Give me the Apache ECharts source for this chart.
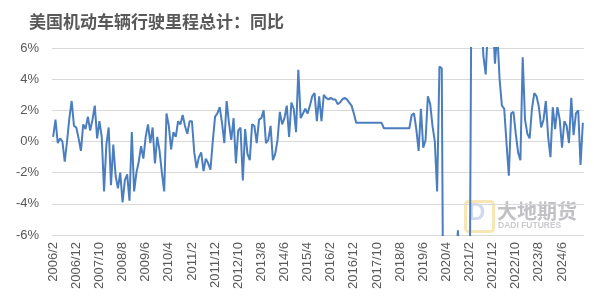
<!DOCTYPE html>
<html>
<head>
<meta charset="utf-8">
<script src="https://cdn.jsdelivr.net/npm/echarts@6/dist/echarts.min.js"></script>
<style>
html,body{margin:0;padding:0;background:#fff;}
#c{width:594px;height:304px;}
</style>
</head>
<body>
<div id="c"></div>
<script>
// Title
var titleText = '美国机动车辆行驶里程总计：同比';

// Monthly categories: 2006/2 .. 2025/3
var startYear = 2006, startMonth = 2, monthCount = 230;
var categories = [];
for (var k = 0; k < monthCount; k++) {
  var m = startMonth - 1 + k;
  categories.push((startYear + Math.floor(m / 12)) + '/' + (m % 12 + 1));
}

// Y tick labels (percent)
var yTicks = [-6, -4, -2, 0, 2, 4, 6];

// YoY values (%)
var yoy2006_2013 = [
  0.3, 1.4, -0.1, 0.2, 0.0, -1.3, 0.0, 1.5, 2.6, 1.0,
  0.9, 0.2, -0.6, 1.1, 0.8, 1.6, 0.7, 1.4, 2.3, 0.2,
  1.3, 0.3, -3.2, -0.2, 0.9, -2.8, -0.2, -2.2, -3.0, -2.0,
  -3.9, -2.5, -2.1, -3.8, 0.6, -3.2, -2.0, -1.3, -0.3, -1.1,
  0.3, 1.1, -0.1, 0.9, -1.4, 0.3, -0.6, -2.0, -3.2, 1.8,
  1.0, -0.5, 0.6, 0.3, 1.3, 1.1, 1.7, 1.0, 0.5, 1.3,
  1.3, -0.7, -1.7, -1.0, -0.7, -1.9, -1.1, -1.4, -1.8, 0.0,
  1.6, 1.8, 2.2, 1.2, -0.1, 2.6, 1.2, 0.1, 1.5, -1.4,
  0.7, 0.9, -2.5, 0.8, -0.8, -1.2, 1.1, 1.0, -0.1, 1.4
];
var yoy2013_2019 = [
  1.5, 2.0, -0.1, 0.1, 1.0, -1.2, -0.8, 0.1, 1.9, 1.1,
  1.5, 2.3, 0.3, 2.5, 2.1, 0.6, 4.6, 1.5, 1.8, 2.1,
  1.8, 2.3, 2.9, 3.1, 1.3, 2.9, 1.3, 3.0, 2.8, 2.7,
  2.8, 2.7, 2.7, 2.4, 2.5, 2.7, 2.8, 2.7, 2.5, 2.3,
  1.8, 1.2, 1.2, 1.2, 1.2, 1.2, 1.2, 1.2, 1.2, 1.2,
  1.2, 1.2, 1.2, 0.85, 0.85, 0.85, 0.85, 0.85, 0.85, 0.85,
  0.85, 0.85, 0.85, 0.85, 0.85
];
var yoy2019_2025 = [
  1.7, 1.8, 0.8, -0.6, 2.1, -0.4, 0.1, 2.9, 2.4, 1.0,
  0.0, -3.2, 4.8, 4.7, -20, -40, -25, -13, -10, -8,
  -5.7, -9, -10, -11, -12, -13, 15, 45, 25, 12,
  8.5, 5.5, 4.3, 7.5, 7.0, 8.0, 5.0, 7.0, 4.0, 2.3,
  2.1, -0.1, -2.2, 1.8, 1.9, 0.5, -0.7, -1.2, 5.4, 1.4,
  0.5, 0.2, 2.1, 3.1, 2.9, 2.2, 0.9, 1.4, 2.6, 0.3,
  -1.0, 2.2, 0.8, 2.2, 1.4, -0.4, 1.3, 1.0, -0.1, 2.8,
  0.4, 1.8, 2.0, -1.5, 1.2
];
var yoyValues = yoy2006_2013.concat(yoy2013_2019, yoy2019_2025);

var chart = echarts.init(document.getElementById('c'), null, {renderer: 'canvas'});
var grey = '#595959';
chart.setOption({
  animation: false,
  backgroundColor: '#fff',
  title: {
    text: titleText,
    left: 24, top: 8,
    textStyle: {fontSize: 17, fontWeight: 'bold', color: grey, fontFamily: 'Noto Sans CJK SC'}
  },
  grid: {left: 52, right: 10, top: 48, bottom: 69, containLabel: false},
  xAxis: {
    type: 'category',
    data: categories,
    boundaryGap: true,
    axisLine: {show: true, lineStyle: {color: '#d9d9d9', width: 1}},
    axisTick: {show: false},
    axisLabel: {
      interval: 9, rotate: 90, margin: 7,
      color: grey, fontSize: 13, fontFamily: 'Liberation Sans'
    },
    splitLine: {show: false}
  },
  yAxis: {
    type: 'value',
    min: yTicks[0], max: yTicks[yTicks.length - 1], interval: 2,
    axisLine: {show: false},
    axisTick: {show: false},
    axisLabel: {
      formatter: '{value}%', color: grey, fontSize: 13, margin: 13,
      fontFamily: 'Liberation Sans'
    },
    splitLine: {lineStyle: {color: '#d9d9d9', width: 1}}
  },
  graphic: [
    {type: 'rect', z: 0, left: 463, top: 199, shape: {width: 28, height: 30, r: 3},
     style: {fill: 'none', stroke: 'rgba(240,200,90,0.45)', lineWidth: 3}},
    {type: 'text', z: 0, left: 468, top: 201,
     style: {text: 'D', fill: 'rgba(120,150,200,0.35)', font: 'bold 24px Liberation Sans'}},
    {type: 'text', z: 0, left: 497, top: 201,
     style: {text: '大地期货', fill: 'rgba(130,130,140,0.5)', font: 'bold 20px "Noto Sans CJK SC"'}},
    {type: 'text', z: 0, left: 498, top: 221,
     style: {text: 'DADI FUTURES', fill: 'rgba(150,150,160,0.5)', font: 'bold 8.5px Liberation Sans'}}
  ],
  series: [{
    type: 'line',
    data: yoyValues,
    showSymbol: false,
    clip: true,
    lineStyle: {color: '#4a7ebf', width: 2},
    itemStyle: {color: '#4a7ebf'},
    z: 5
  }]
});
</script>
</body>
</html>
